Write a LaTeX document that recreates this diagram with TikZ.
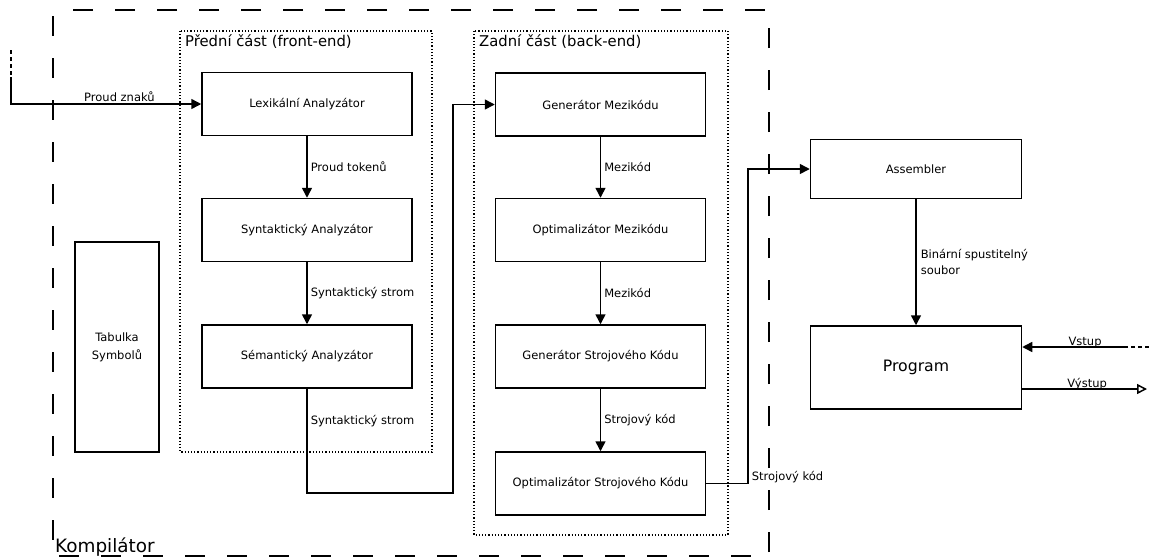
\documentclass[tikz,border=0pt]{standalone}
\usepackage{fontspec}
\setmainfont{DejaVu Sans}
\usetikzlibrary{arrows.meta}
\begin{document}
\begin{tikzpicture}[x=1pt,y=-1pt,
  blk/.style={draw,line width=1.5pt,minimum width=210pt,minimum height=63pt,inner sep=0pt,font=\fontsize{11.5}{13}\selectfont},
  lbl/.style={font=\fontsize{11.5}{13}\selectfont,inner sep=1pt},
  arr/.style={line width=1.5pt,-{Triangle[length=10pt,width=10pt]}},
  oarr/.style={line width=1.5pt,-{Triangle[open,length=10pt,width=10pt]}},
  grp/.style={draw,line width=1.2pt,dotted},
  grplbl/.style={font=\fontsize{14.8}{16}\selectfont,inner sep=1pt,anchor=north west},
  outer/.style={draw,line width=1.6pt,dash pattern=on 20pt off 22pt,dash phase=36pt},
  fine/.style={line width=1.5pt,dash pattern=on 4pt off 3pt}]
\useasboundingbox (0,0) rectangle (1149,558);
% compiler frame
\draw[outer] (53,10) rectangle (769,556);
\node[inner sep=0pt,anchor=base west,font=\fontsize{18.4}{20}\selectfont] (komp) at (55,552) {Kompilátor};
% groups
\draw[grp] (180,31) rectangle (432,452);
\node[grplbl] (fe) at (184,33) {Přední část (front-end)};
\draw[grp] (474,31) rectangle (728,535);
\node[grplbl] (be) at (478,33) {Zadní část (back-end)};
% front-end
\node[blk] (lex) at (307,104) {Lexikální Analyzátor};
\node[blk] (syn) at (307,230) {Syntaktický Analyzátor};
\node[blk] (sem) at (307,356.5) {Sémantický Analyzátor};
\node[blk,minimum width=84pt,minimum height=210pt,align=center,font=\fontsize{11.5}{18}\selectfont] (tab) at (117,347) {Tabulka\\Symbolů};
% back-end
\node[blk] (gen) at (600.5,104.5) {Generátor Mezikódu};
\node[blk] (optm) at (600.5,230) {Optimalizátor Mezikódu};
\node[blk] (gsk) at (600.5,356.5) {Generátor Strojového Kódu};
\node[blk] (osk) at (600.5,483.5) {Optimalizátor Strojového Kódu};
% outside
\node[blk,minimum width=211pt,minimum height=59pt] (asm) at (916,169) {Assembler};
\node[blk,minimum width=211pt,minimum height=83pt,font=\fontsize{15.7}{18}\selectfont] (prog) at (916,367.5) {Program};
% input
\coordinate (in0) at (11,50);
\coordinate (in1) at (11,77);
\draw[fine] (in0) -- (in1);
\draw[arr] (in1) |- (lex.west) node[lbl,pos=0.785,anchor=base,yshift=3pt] {Proud znaků};
% front-end arrows
\draw[arr] (lex) -- (syn) node[lbl,midway,right=2pt] {Proud tokenů};
\draw[arr] (syn) -- (sem) node[lbl,midway,right=2pt] {Syntaktický strom};
\coordinate (c1) at (307,493);
\coordinate (c2) at (453,493);
\draw[arr] (sem.south) -- (c1) node[lbl,pos=0.31,right=2pt] {Syntaktický strom} -- (c2) |- (gen.west);
% back-end arrows
\draw[arr] (gen) -- (optm) node[lbl,midway,right=2pt] {Mezikód};
\draw[arr] (optm) -- (gsk) node[lbl,midway,right=2pt] {Mezikód};
\draw[arr] (gsk) -- (osk) node[lbl,midway,right=2pt] {Strojový kód};
\coordinate (c4) at (748,483.5);
\draw[arr] (osk.east) -- (c4) node[lbl,anchor=south west,xshift=2pt,yshift=-1pt] {Strojový kód} |- (asm.west);
% assembler to program
\draw[arr] (asm) -- (prog) node[lbl,midway,anchor=west,align=left,xshift=3pt,font=\fontsize{11.5}{16}\selectfont] {Binární spustitelný\\soubor};
% program io
\coordinate (vin0) at (1149,347);
\coordinate (vin1) at (1127,347);
\draw[fine] (vin0) -- (vin1);
\draw[arr] (vin1) -- (prog.east |- vin1) node[lbl,pos=0.4,anchor=base,yshift=2pt] {Vstup};
\coordinate (vout) at (1147,389);
\draw[oarr] (prog.east |- vout) -- (vout) node[lbl,pos=0.52,anchor=base,yshift=2pt] {Výstup};
\end{tikzpicture}
\end{document}
